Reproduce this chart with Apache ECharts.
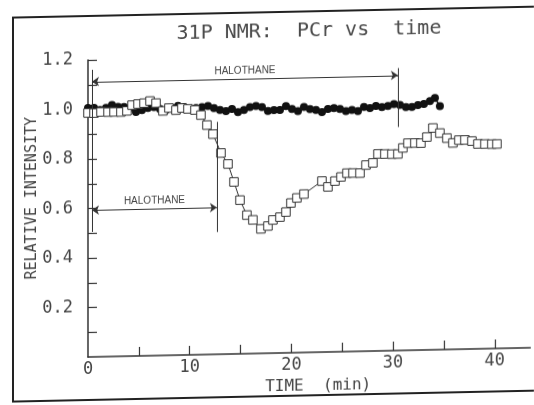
<!DOCTYPE html>
<html><head><meta charset="utf-8">
<script src="https://cdn.jsdelivr.net/npm/echarts@6/dist/echarts.min.js"></script>
<style>
html,body{margin:0;padding:0;background:#fff;overflow:hidden}
#c{width:534px;height:405px;transform:skewY(-1.2deg);transform-origin:88px 357px;}
</style>
</head><body><div id="c"></div><script>
// filled circles (control)
const circleTime = [0,0.59,1.18,1.77,2.36,2.95,3.54,4.13,4.72,5.31,5.90,6.49,7.08,7.67,8.26,8.85,9.44,10.03,10.62,11.21,11.80,12.39,12.98,13.57,14.16,14.75,15.34,15.93,16.52,17.11,17.70,18.29,18.88,19.47,20.06,20.65,21.24,21.83,22.42,23.01,23.60,24.19,24.78,25.37,25.96,26.55,27.14,27.73,28.32,28.91,29.50,30.09,30.68,31.27,31.86,32.45,33.04,33.63,34.12,34.61];
const circleValue = [1.006,1.006,0.997,1.005,1.016,1.008,1.007,1.003,0.986,0.993,1.001,1.004,0.996,0.991,0.999,1.007,1.002,0.993,0.997,1.000,1.004,0.995,0.987,0.982,0.990,0.977,0.985,0.996,1.000,0.995,0.979,0.982,0.982,0.997,0.985,0.976,0.992,0.983,0.979,0.970,0.982,0.985,0.981,0.972,0.976,0.971,0.987,0.982,0.990,0.985,0.989,0.996,0.992,0.983,0.983,0.990,0.994,1.005,1.017,0.984];
// open squares
const squareTime = [0,0.59,1.28,1.97,2.56,3.24,3.83,4.33,4.92,5.51,6.10,6.69,7.37,7.96,8.65,9.24,9.83,10.52,11.11,11.70,12.29,13.08,13.77,14.36,14.95,15.63,16.22,17.01,17.70,18.19,18.88,19.47,19.96,20.55,21.24,23.01,23.60,24.29,24.88,25.47,26.06,26.75,27.34,28.02,28.52,29.20,29.89,30.48,30.97,31.47,32.15,32.74,33.33,33.92,34.61,35.30,35.89,36.48,37.07,37.76,38.35,39.04,39.72,40.22];
const squareValue = [0.986,0.985,0.989,0.988,0.988,0.987,0.991,1.014,1.018,1.021,1.029,1.020,0.988,0.999,0.990,0.998,0.994,0.989,0.968,0.927,0.890,0.813,0.768,0.695,0.621,0.560,0.540,0.503,0.514,0.538,0.549,0.569,0.605,0.625,0.640,0.691,0.667,0.690,0.706,0.721,0.721,0.720,0.752,0.760,0.796,0.795,0.794,0.794,0.818,0.837,0.837,0.836,0.860,0.896,0.875,0.854,0.834,0.845,0.845,0.840,0.828,0.827,0.826,0.826];
const xLabelValues = [0,10,20,30,40];
const xTickValues = [5,10,15,20,25,30,35,40];
const yLabelValues = [0.2,0.4,0.6,0.8,1.0,1.2];
const yTickValues = [0.1,0.2,0.3,0.4,0.5,0.6,0.7,0.8,0.9,1.0,1.1,1.2];
const titleText = '31P NMR:  PCr vs  time';
const xName = 'TIME  (min)';
const yName = 'RELATIVE INTENSITY';
const annoText = 'HALOTHANE';

const ink = '#333';
const mono = "'DejaVu Sans Mono', monospace";
const chart = echarts.init(document.getElementById('c'), null, {renderer:'canvas'});
const pair = (a,b)=>a.map((v,i)=>[v,b[i]]);
chart.setOption({
  animation:false,
  backgroundColor:'#fff',
  title:{text:titleText,left:304,top:21,textAlign:'center',
    textStyle:{fontFamily:mono,fontSize:20,fontWeight:'normal',color:'#4a4a4a'}},
  grid:{left:88,right:3.6,top:60,bottom:48,containLabel:false},
  xAxis:{type:'value',min:0,max:43.5,
    axisLine:{lineStyle:{color:ink,width:1.5}},
    axisTick:{inside:true,length:9,customValues:xTickValues,lineStyle:{color:ink,width:1.2}},
    axisLabel:{customValues:xLabelValues,margin:4,fontFamily:mono,fontSize:17,color:'#444'},
    splitLine:{show:false},
    name:xName,nameLocation:'middle',nameGap:23,
    nameTextStyle:{fontFamily:mono,fontSize:16,color:'#444',padding:[0,0,0,18]}},
  yAxis:{type:'value',min:0,max:1.2,
    axisLine:{lineStyle:{color:ink,width:1.5}},
    axisTick:{inside:true,length:9,customValues:yTickValues,lineStyle:{color:ink,width:1.2}},
    axisLabel:{customValues:yLabelValues,margin:15,fontFamily:mono,fontSize:17,color:'#444',
      formatter:v=>v.toFixed(1)},
    splitLine:{show:false}},
  graphic:[
    {type:'rect',shape:{x:13,y:16,width:600,height:384},
     style:{fill:'none',stroke:'#222',lineWidth:2},silent:true},
    {type:'text',x:32,y:197,rotation:Math.PI/2,silent:true,
     style:{text:yName,fontFamily:mono,fontSize:15,fill:'#444',align:'center',verticalAlign:'middle'}}
  ],
  series:[
    {type:'line',data:pair(circleTime,circleValue),symbol:'circle',symbolSize:8,
     itemStyle:{color:'#111'},lineStyle:{color:'#111',width:1.5},z:3,
     markLine:{silent:true,symbol:['none','none'],animation:false,
       lineStyle:{color:ink,width:1,type:'solid'},
       label:{show:false},
       data:[
         [{coord:[0.39,1.16]},{coord:[0.39,0.505]}],
         [{coord:[30.48,1.141]},{coord:[30.48,0.903]}],
         [{coord:[12.68,0.939]},{coord:[12.68,0.494]}],
         [{coord:[0.39,1.112],symbol:'arrow',symbolSize:7},{coord:[30.48,1.112],symbol:'arrow',symbolSize:7,
           label:{show:true,position:'middle',formatter:annoText,distance:3,fontFamily:"'Liberation Sans', Arial",fontSize:10,color:'#444'}}],
         [{coord:[0.39,0.593],symbol:'arrow',symbolSize:7},{coord:[12.68,0.593],symbol:'arrow',symbolSize:7,
           label:{show:true,position:'middle',formatter:annoText,distance:3,fontFamily:"'Liberation Sans', Arial",fontSize:10,color:'#444'}}]
       ]}},
    {type:'line',data:pair(squareTime,squareValue),symbol:'rect',symbolSize:8.5,
     itemStyle:{color:'#fff',borderColor:'#333',borderWidth:1},lineStyle:{color:'#333',width:1},z:4}
  ]
});
</script></body></html>
